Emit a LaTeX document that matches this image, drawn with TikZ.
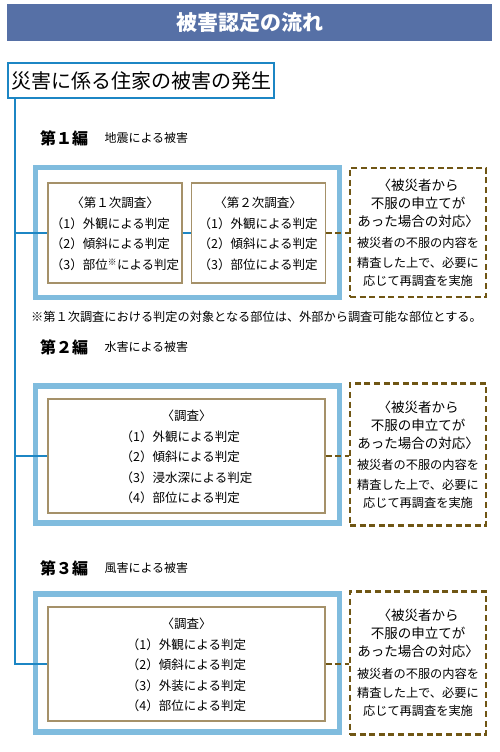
\documentclass[tikz,border=0pt]{standalone}
\usepackage{fontspec}
\setmainfont{Noto Sans CJK JP}
\usepackage{tikz}
\usetikzlibrary{positioning}
\definecolor{titleBlue}{RGB}{86,112,166}
\definecolor{flowBlue}{RGB}{28,134,196}
\definecolor{frameBlue}{RGB}{128,188,222}
\definecolor{tanLine}{RGB}{165,145,105}
\definecolor{dashBrown}{RGB}{112,86,20}
\tikzset{
  titlebar/.style={
    rectangle, fill=titleBlue, text=white, inner sep=0pt,
    minimum width=485pt, minimum height=37pt,
    font=\fontsize{21}{24}\selectfont\bfseries
  },
  startbox/.style={
    rectangle, draw=flowBlue, line width=2pt, fill=white, inner sep=0pt,
    minimum width=266pt, minimum height=35pt,
    font=\fontsize{20}{24}\selectfont
  },
  parthead/.style={anchor=west, inner sep=0pt, font=\fontsize{16}{18}\selectfont\bfseries},
  partsub/.style={inner sep=0pt, font=\fontsize{12}{14}\selectfont},
  outerframe/.style={rectangle, draw=frameBlue, line width=5.5pt, minimum width=304pt, inner sep=0pt},
  checkbox/.style={
    rectangle, draw=tanLine, line width=1.2pt, fill=white, align=center, inner sep=0pt,
    font=\fontsize{12.5}{20.5}\selectfont
  },
  appealbox/.style={
    rectangle, draw=dashBrown, line width=2.5pt, dash pattern=on 6pt off 3.6pt,
    text width=132pt, minimum width=136pt, align=center, inner sep=0pt,
    font=\fontsize{13.5}{18}\selectfont
  },
  flowline/.style={draw=flowBlue, line width=2.5pt},
  appealline/.style={draw=dashBrown, line width=2.5pt, dash pattern=on 6pt off 3.6pt}
}
\newcommand{\appealtext}{〈被災者から\\不服の申立てが\\あった場合の対応〉\\[2pt]
  \fontsize{12.2}{19.5}\selectfont 被災者の不服の内容を\\精査した上で、必要に\\応じて再調査を実施}

\begin{document}
\begin{tikzpicture}[x=1pt,y=-1pt]
  \useasboundingbox (0,0) rectangle (500,752);
  \node[titlebar] (title) at (249.5,22.5) {被害認定の流れ};
  \node[startbox] (start) at (141,80.5) {災害に係る住家の被害の発生};
  \coordinate (trunk) at ([xshift=8pt]start.south west);

  \node[parthead] (head1) at (40,138) {第１編};
  \node[partsub, right=16pt of head1] (sub1) {地震による被害};
  \node[outerframe, minimum height=130pt] (outerA) at (187.5,232.5) {};
  \node[checkbox, minimum width=134pt, minimum height=100pt] (inA1) at (115,233)
    {\rule{0pt}{6pt}\\[-9pt]〈第１次調査〉\\
     \begin{tabular}[t]{@{}l@{}}
       （1）外観による判定\\（2）傾斜による判定\\（3）部位\textsuperscript{※}による判定
     \end{tabular}};
  \node[checkbox, minimum width=134pt, minimum height=100pt, right=8pt of inA1] (inA2)
    {\rule{0pt}{6pt}\\[-9pt]〈第２次調査〉\\
     \begin{tabular}[t]{@{}l@{}}
       （1）外観による判定\\（2）傾斜による判定\\（3）部位による判定
     \end{tabular}};
  \node[appealbox, minimum height=129pt, right=6.5pt of outerA] (appealA) {\appealtext};
  \node[anchor=west, inner sep=0pt, font=\fontsize{12.2}{14}\selectfont] (note1) at (31,317)
    {※第１次調査における判定の対象となる部位は、外部から調査可能な部位とする。};

  \node[parthead] (head2) at (40,347) {第２編};
  \node[partsub, right=16pt of head2] (sub2) {水害による被害};
  \node[outerframe, minimum height=137pt] (outerB) at (187.5,454.5) {};
  \node[checkbox, minimum width=277pt, minimum height=114pt] (inB) at (186.5,456)
    {\rule{0pt}{6pt}\\[-9pt]〈調査〉\\
     \begin{tabular}[t]{@{}l@{}}
       （1）外観による判定\\（2）傾斜による判定\\（3）浸水深による判定\\（4）部位による判定
     \end{tabular}};
  \node[appealbox, minimum height=142pt, right=6.5pt of outerB] (appealB) {\appealtext};

  \node[parthead] (head3) at (40,568) {第３編};
  \node[partsub, right=16pt of head3] (sub3) {風害による被害};
  \node[outerframe, minimum height=138pt] (outerC) at (187.5,663) {};
  \node[checkbox, minimum width=277pt, minimum height=114pt] (inC) at (186.5,664)
    {\rule{0pt}{6pt}\\[-9pt]〈調査〉\\
     \begin{tabular}[t]{@{}l@{}}
       （1）外観による判定\\（2）傾斜による判定\\（3）外装による判定\\（4）部位による判定
     \end{tabular}};
  \node[appealbox, minimum height=143pt, right=6.5pt of outerC] (appealC) {\appealtext};

  \draw[flowline] (trunk) |- (inC.west);
  \draw[flowline] (trunk |- inA1.west) -- (inA1.west);
  \draw[flowline] (inA1.east) -- (inA2.west);
  \draw[flowline] (trunk |- inB.west) -- (inB.west);
  \draw[appealline] (inA2.east) -- (inA2.east -| appealA.west);
  \draw[appealline] (inB.east) -- (inB.east -| appealB.west);
  \draw[appealline] (inC.east) -- (inC.east -| appealC.west);
\end{tikzpicture}
\end{document}
